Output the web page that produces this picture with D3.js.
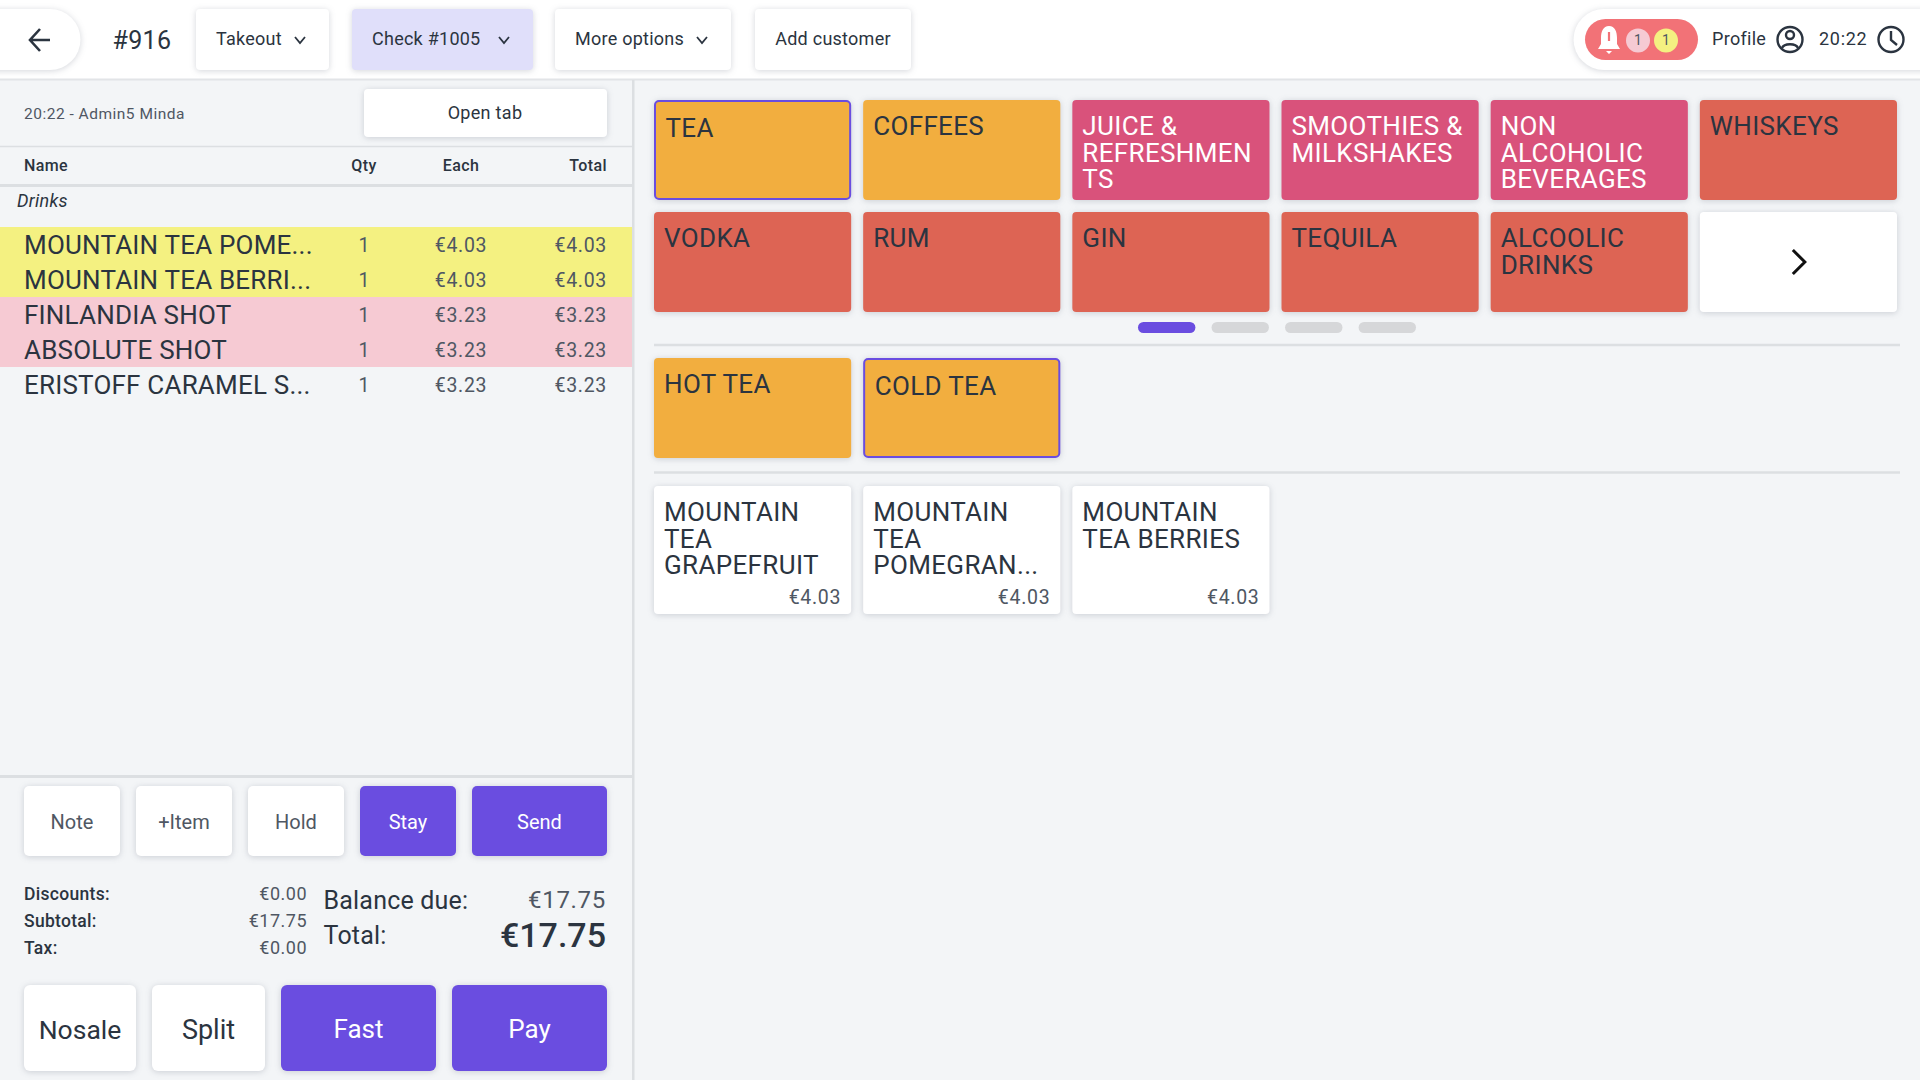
<!DOCTYPE html>
<html>
<head>
<meta charset="utf-8">
<script src="https://cdn.jsdelivr.net/npm/d3@7"></script>
<style>
  html, body { margin: 0; padding: 0; background: #f3f5f7; overflow: hidden; }
  svg { display: block; font-family: Roboto, sans-serif; }
  .sombra { filter: drop-shadow(0 1px 3px rgba(60, 70, 90, 0.22)); }
</style>
</head>
<body>
<svg id="tela" width="1920" height="1080"></svg>
<script>
const categorias = ["TEA", "COFFEES", "JUICE &\nREFRESHMEN\nTS", "SMOOTHIES &\nMILKSHAKES", "NON\nALCOHOLIC\nBEVERAGES", "WHISKEYS",
  "VODKA", "RUM", "GIN", "TEQUILA", "ALCOOLIC\nDRINKS"];
const gruposCategoria = ["quente", "quente", "doce", "doce", "doce", "forte", "forte", "forte", "forte", "forte", "forte"];
const subcategorias = ["HOT TEA", "COLD TEA"];
const produtos = ["MOUNTAIN\nTEA\nGRAPEFRUIT", "MOUNTAIN\nTEA\nPOMEGRAN...", "MOUNTAIN\nTEA BERRIES"];
const precosProdutos = [4.03, 4.03, 4.03];
const itensNomes = ["MOUNTAIN TEA POME...", "MOUNTAIN TEA BERRI...", "FINLANDIA SHOT", "ABSOLUTE SHOT", "ERISTOFF CARAMEL S..."];
const itensQtd = [1, 1, 1, 1, 1];
const itensPreco = [4.03, 4.03, 3.23, 3.23, 3.23];
const itensEstado = ["amarelo", "amarelo", "rosa", "rosa", "nenhum"];
const resumoRotulos = ["Discounts:", "Subtotal:", "Tax:"];
const resumoValores = [0, 17.75, 0];
const botoesTopo = ["Takeout", "Check #1005", "More options", "Add customer"];
const botoesAcao = ["Note", "+Item", "Hold", "Stay", "Send"];
const botoesPagar = ["Nosale", "Split", "Fast", "Pay"];

const ROXO = "#6a4de0";
const ESCURO = "#2b3440";
const CINZA = "#4f5763";
const euro = (v) => `€${v.toFixed(2)}`;
const corGrupo = d3.scaleOrdinal(["quente", "doce", "forte"], ["#f2ae3f", "#d9527b", "#dd6454"]);
const corTextoGrupo = d3.scaleOrdinal(["quente", "doce", "forte"], [ESCURO, "#ffffff", ESCURO]);
const corLinha = d3.scaleOrdinal(["amarelo", "rosa", "nenhum"], ["#f4f181", "#f6cad3", "none"]);

const svg = d3.select("#tela");

function caixa(g, x, y, w, h, fill, rx = 4, sombra = true) {
  return g.append("rect").attr("x", x).attr("y", y).attr("width", w).attr("height", h)
    .attr("rx", rx).attr("fill", fill).attr("class", sombra ? "sombra" : null);
}

function texto(g, x, y, str, size, fill, anchor = "start", weight = 400, espaco = 0) {
  return g.append("text").attr("x", x).attr("y", y).attr("dy", "0.36em")
    .attr("font-size", size).attr("fill", fill).attr("text-anchor", anchor)
    .attr("font-weight", weight).attr("letter-spacing", espaco).text(str);
}

function linhaH(g, x1, x2, y, esp, cor = "#dcdfe2") {
  g.append("line").attr("x1", x1).attr("x2", x2).attr("y1", y).attr("y2", y)
    .attr("stroke", cor).attr("stroke-width", esp);
}

// ---- topo
const topo = svg.append("g");
topo.append("rect").attr("width", 1920).attr("height", 79).attr("fill", "#ffffff");
linhaH(topo, 0, 1920, 79.5, 2, "#e2e4e7");

topo.append("path").attr("class", "sombra").attr("fill", "#fff")
  .attr("d", "M-40,9H50a30.500,30.500,0,0,1,0,61H-40Z");
topo.append("path").attr("fill", "none").attr("stroke", ESCURO).attr("stroke-width", 2.6)
  .attr("d", "M50,40H31M40,29L30,40L40,51");
texto(topo, 112.5, 40, "#916", 25, ESCURO, "start", 400, 0.3);

const xTopo = [196, 352, 555, 755];
const wTopo = [133, 181, 176, 156];
botoesTopo.forEach((rotulo, i) => {
  const ativo = rotulo.startsWith("Check");
  caixa(topo, xTopo[i], 9, wTopo[i], 61, ativo ? "#e0dffa" : "#ffffff");
  const temSeta = i < 3;
  const t = texto(topo, temSeta ? xTopo[i] + 20 : xTopo[i] + wTopo[i] / 2, 39, rotulo, 18, ESCURO, temSeta ? "start" : "middle", 400, 0.25);
  if (temSeta) {
    const cx = xTopo[i] + wTopo[i] - 29;
    topo.append("path").attr("fill", "none").attr("stroke", ESCURO).attr("stroke-width", 1.8)
      .attr("d", `M${cx - 5},37L${cx},43L${cx + 5},37`);
  }
});

// direita do topo
topo.append("path").attr("class", "sombra").attr("fill", "#fff")
  .attr("d", "M1960,9H1604a30.500,30.500,0,0,0,0,61H1960Z");
caixa(topo, 1585, 19, 113, 41, "#f27277", 20.5, false);
topo.append("path").attr("fill", "#fff")
  .attr("d", "M1609,26c-6,0-8,6-8,12v6l-3,5h22l-3-5v-6c0-6-2-12-8-12ZM1606,51h6l-3,3Z");
topo.append("line").attr("x1", 1609).attr("x2", 1609).attr("y1", 32).attr("y2", 41).attr("stroke", "#f27277").attr("stroke-width", 2.2);
topo.append("circle").attr("cx", 1638).attr("cy", 40.5).attr("r", 12).attr("fill", "#f6cad3");
topo.append("circle").attr("cx", 1666).attr("cy", 40.5).attr("r", 12).attr("fill", "#f4f181");
texto(topo, 1638, 40, "1", 14, CINZA, "middle");
texto(topo, 1666, 40, "1", 14, CINZA, "middle");
texto(topo, 1712, 39, "Profile", 18, ESCURO, "start", 400, 0.3);
const perfil = topo.append("g").attr("fill", "none").attr("stroke", ESCURO).attr("stroke-width", 2.4);
perfil.append("circle").attr("cx", 1790).attr("cy", 39.5).attr("r", 12.5);
perfil.append("circle").attr("cx", 1790).attr("cy", 35).attr("r", 4);
perfil.append("path").attr("d", "M1782,48c2-5,14-5,16,0");
texto(topo, 1819, 39, "20:22", 18, ESCURO, "start", 400, 0.7);
const relogio = topo.append("g").attr("fill", "none").attr("stroke", ESCURO).attr("stroke-width", 2.4);
relogio.append("circle").attr("cx", 1891).attr("cy", 39.5).attr("r", 12.5);
relogio.append("path").attr("d", "M1891,31V40L1897,45");

// ---- painel esquerdo
const painel = svg.append("g");
painel.append("rect").attr("x", 632).attr("y", 80).attr("width", 2.5).attr("height", 1000).attr("fill", "#dcdfe2");
texto(painel, 24, 113, "20:22 - Admin5 Minda", 15.5, CINZA, "start", 400, 0.5);
caixa(painel, 364, 89, 243, 48, "#ffffff");
texto(painel, 485, 112.5, "Open tab", 18, ESCURO, "middle", 400, 0.3);
linhaH(painel, 0, 632, 146.5, 1.5);

const xQtd = 364, xCada = 461, xTotal = 607;
texto(painel, 24, 165.5, "Name", 16, ESCURO, "start", 500, 0.4);
texto(painel, xQtd, 165.5, "Qty", 16, ESCURO, "middle", 500, 0.4);
texto(painel, xCada, 165.5, "Each", 16, ESCURO, "middle", 500, 0.4);
texto(painel, xTotal, 165.5, "Total", 16, ESCURO, "end", 500, 0.4);
linhaH(painel, 0, 632, 185.5, 3);
texto(painel, 17, 201, "Drinks", 18, ESCURO, "start", 400, 0.3).attr("font-style", "italic");

const yLinha = d3.scaleBand().domain(d3.range(itensNomes.length)).range([227, 402]);
itensNomes.forEach((nome, i) => {
  const y = yLinha(i);
  const meio = y + yLinha.bandwidth() / 2;
  painel.append("rect").attr("x", 0).attr("y", y).attr("width", 632).attr("height", yLinha.bandwidth())
    .attr("fill", corLinha(itensEstado[i]));
  texto(painel, 24, meio, nome, 26, ESCURO, "start", 400, 0.2);
  texto(painel, xQtd, meio, itensQtd[i], 19.5, CINZA, "middle");
  texto(painel, xCada, meio, euro(itensPreco[i]), 19.5, CINZA, "middle", 400, 0.7);
  texto(painel, xTotal, meio, euro(itensPreco[i] * itensQtd[i]), 19.5, CINZA, "end", 400, 0.7);
});

linhaH(painel, 0, 632, 776.5, 3);

// botões de ação
const xAcao = [24, 136, 248, 360, 472];
const wAcao = [96, 96, 96, 96, 135];
botoesAcao.forEach((rotulo, i) => {
  const cheio = i >= 3;
  caixa(painel, xAcao[i], 786, wAcao[i], 70, cheio ? ROXO : "#ffffff", 5);
  texto(painel, xAcao[i] + wAcao[i] / 2, 821.5, rotulo, 20, cheio ? "#ffffff" : CINZA, "middle");
});

// resumo
const yResumo = d3.scalePoint().domain(d3.range(resumoRotulos.length)).range([894, 948]);
resumoRotulos.forEach((r, i) => {
  texto(painel, 24, yResumo(i), r, 17.5, ESCURO, "start", 500, 0.3);
  texto(painel, 307, yResumo(i), euro(resumoValores[i]), 18, CINZA, "end", 400, 0.5);
});
const totalConta = d3.sum(itensPreco);
texto(painel, 323.5, 899.5, "Balance due:", 25, ESCURO, "start", 400, 0.2);
texto(painel, 606, 899.5, euro(totalConta), 24, CINZA, "end", 400, 0.7);
texto(painel, 323.5, 934.5, "Total:", 25, ESCURO, "start", 400, 0.2);
texto(painel, 606, 934.5, euro(totalConta), 34, ESCURO, "end", 500);

const xPagar = [24, 152, 281, 452];
const wPagar = [112, 113, 155, 155];
const tamPagar = [26.5, 27, 26, 26];
botoesPagar.forEach((rotulo, i) => {
  const cheio = i >= 2;
  caixa(painel, xPagar[i], 985, wPagar[i], 86, cheio ? ROXO : "#ffffff", 6);
  texto(painel, xPagar[i] + wPagar[i] / 2, 1029, rotulo, tamPagar[i], cheio ? "#ffffff" : ESCURO, "middle");
});

// ---- grades
const xGrade = d3.scaleBand().domain(d3.range(6)).range([654, 1897]).paddingInner(12 / 209);
const yGrade = d3.scaleBand().domain(d3.range(2)).range([100, 312]).paddingInner(12 / 112);
const grade = svg.append("g");

function rotuloMulti(g, x, y, str, fill) {
  str.split("\n").forEach((l, i) => texto(g, x, y + i * 26.5, l, 26, fill, "start", 400, 0.35));
}

categorias.forEach((rotulo, i) => {
  const col = i % 6, lin = Math.floor(i / 6);
  const x = xGrade(col), y = yGrade(lin);
  const g = grade.append("g");
  const sel = rotulo === "TEA";
  const r = caixa(g, x, y, xGrade.bandwidth(), yGrade.bandwidth(), corGrupo(gruposCategoria[i]));
  if (sel) r.attr("stroke", ROXO).attr("stroke-width", 2).attr("x", x + 1).attr("y", y + 1)
    .attr("width", xGrade.bandwidth() - 2).attr("height", yGrade.bandwidth() - 2);
  rotuloMulti(g, x + (sel ? 11.5 : 10), y + (sel ? 28 : 26), rotulo, corTextoGrupo(gruposCategoria[i]));
});

// botão próxima página
caixa(grade, xGrade(5), yGrade(1), xGrade.bandwidth(), yGrade.bandwidth(), "#ffffff");
grade.append("path").attr("fill", "none").attr("stroke", "#111").attr("stroke-width", 3)
  .attr("d", `M${xGrade(5) + 93},${yGrade(1) + 38}L${xGrade(5) + 105},${yGrade(1) + 50}L${xGrade(5) + 93},${yGrade(1) + 62}`);

// paginação
const xPag = d3.scaleBand().domain(d3.range(4)).range([1138, 1416]).paddingInner(16 / 73);
xPag.domain().forEach((i) => {
  caixa(grade, xPag(i), 322, xPag.bandwidth(), 11, i === 0 ? ROXO : "#d6d7d9", 5.5, false);
});
linhaH(grade, 654, 1900, 345, 2.5);

subcategorias.forEach((rotulo, i) => {
  const sel = rotulo === "COLD TEA";
  const x = xGrade(i);
  const r = caixa(grade, x, 358, xGrade.bandwidth(), 100, corGrupo("quente"));
  if (sel) r.attr("stroke", ROXO).attr("stroke-width", 2).attr("x", x + 1).attr("y", 359)
    .attr("width", xGrade.bandwidth() - 2).attr("height", 98);
  texto(grade, x + (sel ? 11.5 : 10), sel ? 386 : 384, rotulo, 26, ESCURO, "start", 400, 0.35);
});
linhaH(grade, 654, 1900, 472.5, 2.5);

produtos.forEach((rotulo, i) => {
  const x = xGrade(i);
  caixa(grade, x, 486, xGrade.bandwidth(), 128, "#ffffff");
  rotuloMulti(grade, x + 10, 512, rotulo, ESCURO);
  texto(grade, x + xGrade.bandwidth() - 10, 597, euro(precosProdutos[i]), 19.5, CINZA, "end", 400, 0.7);
});
</script>
</body>
</html>
